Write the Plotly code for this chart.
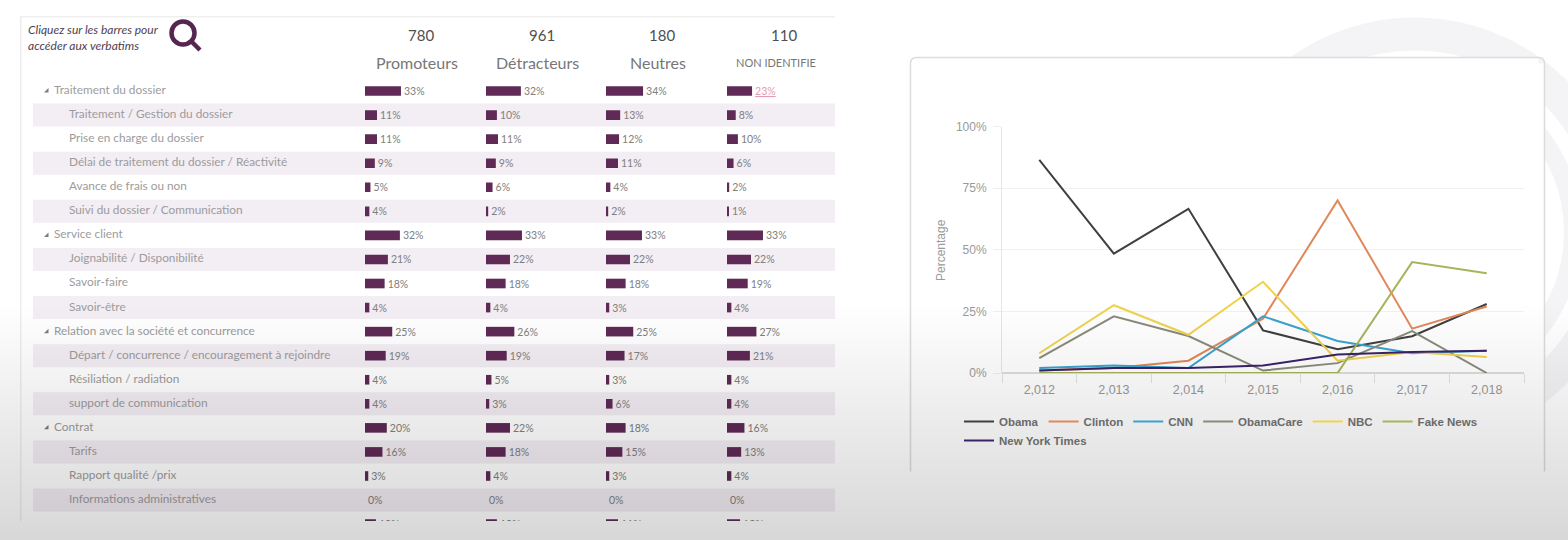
import plotly.graph_objects as go

W, H = 1568, 540

# ---------- table data ----------
row_labels = ["Traitement du dossier", "Traitement / Gestion du dossier", "Prise en charge du dossier",
              "Délai de traitement du dossier / Réactivité", "Avance de frais ou non",
              "Suivi du dossier / Communication", "Service client", "Joignabilité / Disponibilité",
              "Savoir-faire", "Savoir-être", "Relation avec la société et concurrence",
              "Départ / concurrence / encouragement à rejoindre", "Résiliation / radiation",
              "support de communication", "Contrat", "Tarifs", "Rapport qualité /prix",
              "Informations administratives", ""]
row_levels = [0, 1, 1, 1, 1, 1, 0, 1, 1, 1, 0, 1, 1, 1, 0, 1, 1, 1, 0]

promoteurs = [33, 11, 11, 9, 5, 4, 32, 21, 18, 4, 25, 19, 4, 4, 20, 16, 3, 0, 10]
detracteurs = [32, 10, 11, 9, 6, 2, 33, 22, 18, 4, 26, 19, 5, 3, 22, 18, 4, 0, 10]
neutres = [34, 13, 12, 11, 4, 2, 33, 22, 18, 3, 25, 17, 3, 6, 18, 15, 3, 0, 11]
non_identifie = [23, 8, 10, 6, 2, 1, 33, 22, 19, 4, 27, 21, 4, 4, 16, 13, 4, 0, 12]

column_names = ["Promoteurs", "Détracteurs", "Neutres", "NON IDENTIFIE"]
column_counts = ["780", "961", "180", "110"]
columns = [promoteurs, detracteurs, neutres, non_identifie]

# ---------- line chart data ----------
years = ["2,012", "2,013", "2,014", "2,015", "2,016", "2,017", "2,018"]
obama = [86.5, 48.4, 66.6, 17.3, 9.6, 14.9, 28]
clinton = [1, 2, 5, 22, 70, 18, 27]
cnn = [2, 3, 2, 23, 13, 8, 9]
obamacare = [6, 23, 15, 1, 4, 17, 0]
nbc = [8, 27.5, 15.5, 37, 5, 8.5, 6.5]
fake_news = [0, 0, 0, 0, 0, 45, 40.5]
nyt = [1, 2, 2, 3, 7.5, 8.5, 9]
series_names = ["Obama", "Clinton", "CNN", "ObamaCare", "NBC", "Fake News", "New York Times"]
series_values = [obama, clinton, cnn, obamacare, nbc, fake_news, nyt]
series_colors = ["#404040", "#e0885a", "#3aa3cf", "#8b8b7c", "#f0d24f", "#a6b45c", "#3a2468"]


def fx(p):
    return p / W


def fy(p):
    return 1 - p / H


def rect(x0, y0, x1, y1, fill, layer="below"):
    return dict(type="rect", xref="paper", yref="paper", x0=fx(x0), x1=fx(x1), y0=fy(y0), y1=fy(y1),
                fillcolor=fill, line_width=0, layer=layer)


def circle(cx, cy, r, width, color):
    return dict(type="circle", xref="paper", yref="paper", x0=fx(cx - r), x1=fx(cx + r),
                y0=fy(cy + r), y1=fy(cy - r), line=dict(color=color, width=width),
                fillcolor="rgba(0,0,0,0)", layer="below")


fig = go.Figure()
BAR = "#5f2a56"
FONT = "Lato"
ROW_TOP, ROW_H = 79.0, 24.06
N = len(row_labels)
col_starts = [365, 486, 606, 727]
BAR_PX_PER_PCT = 1.09
COL_W = 115

layout_axes = {}
# bars
for i, (vals, start) in enumerate(zip(columns, col_starts)):
    name = f"x{i + 2}"
    texts = [f"{v}%" for v in vals]
    colors = ["#808080"] * N
    if i == 3:
        texts[0] = f"<u>{vals[0]}%</u>"
        colors[0] = "#e59ab0"
    fig.add_trace(go.Bar(
        x=vals, y=list(range(N)), orientation="h", xaxis=name, yaxis="y2", width=0.4,
        marker=dict(color=BAR, line_width=0), text=texts, textposition="outside",
        textfont=dict(family=FONT, size=10.5, color=colors), constraintext="none",
        cliponaxis=False, showlegend=False, hoverinfo="skip", name=column_names[i]))
    layout_axes[f"xaxis{i + 2}"] = dict(domain=[fx(start), fx(start + COL_W)],
                                        range=[0, COL_W / BAR_PX_PER_PCT], visible=False,
                                        anchor="y2", fixedrange=True)

# row labels and expand triangles
fig.add_trace(go.Scatter(
    x=[69 if l else 54 for l in row_levels], y=list(range(N)), xaxis="x6", yaxis="y2",
    mode="text", text=row_labels, textposition="middle right",
    textfont=dict(family=FONT, size=11.8, color="#9c9c9c"), showlegend=False, hoverinfo="skip",
    cliponaxis=False))
groups = [i for i, l in enumerate(row_levels) if l == 0 and row_labels[i]]
fig.add_trace(go.Scatter(
    x=[47] * len(groups), y=groups, xaxis="x6", yaxis="y2", mode="markers",
    marker=dict(symbol="triangle-se", size=5, color="#7d7d7d"), showlegend=False, hoverinfo="skip"))
layout_axes["xaxis6"] = dict(domain=[0, fx(835)], range=[0, 835], visible=False, anchor="y2", fixedrange=True)
layout_axes["yaxis2"] = dict(domain=[fy(ROW_TOP + N * ROW_H), fy(ROW_TOP)], range=[N - 0.5, -0.5],
                             visible=False, anchor="x6", fixedrange=True)

# line chart
for name, vals, col in zip(series_names, series_values, series_colors):
    fig.add_trace(go.Scatter(x=years, y=vals, name=name, mode="lines", xaxis="x", yaxis="y",
                             line=dict(color=col, width=2), cliponaxis=False,
                             legend="legend2" if name == "New York Times" else "legend"))

shapes = [
    # faint background rings
    circle(1415, 232, 198, 33, "#f4f4f6"),
    circle(1415, 232, 158, 18, "#f4f4f6"),
    # table card
    rect(20, 16, 835, 525, "#ffffff"),
    rect(20, 16, 835, 17.5, "#efefef"),
    rect(20, 16, 21.5, 525, "#eeeeee"),
]
# chart card (rounded), border on three sides only
cl, ct, cr, cb, rad = 910.5, 57.5, 1544.5, 471.5, 6
corners = (f"M {fx(cl)} {fy(cb)} L {fx(cl)} {fy(ct + rad)} Q {fx(cl)} {fy(ct)} {fx(cl + rad)} {fy(ct)} "
           f"L {fx(cr - rad)} {fy(ct)} Q {fx(cr)} {fy(ct)} {fx(cr)} {fy(ct + rad)} L {fx(cr)} {fy(cb)}")
shapes.append(rect(cl, ct + rad, cr, cb, "#ffffff"))
shapes.append(rect(cl + rad, ct, cr - rad, ct + rad, "#ffffff"))
shapes.append(dict(type="path", xref="paper", yref="paper", path=corners, fillcolor="rgba(0,0,0,0)",
                   line=dict(color="#dcdcdc", width=1.5), layer="below"))
# alternating row bands
for i in range(1, N - 1, 2):
    top = ROW_TOP + i * ROW_H
    shapes.append(rect(33, top + 0.5, 835, top + ROW_H - 0.5, "#f3edf4"))
# magnifier icon
shapes.append(circle(183, 33, 11.5, 4.5, "#55264f"))
shapes.append(dict(type="line", xref="paper", yref="paper", x0=fx(191), y0=fy(41), x1=fx(200), y1=fy(50),
                   line=dict(color="#55264f", width=4.5), layer="above"))
# mask that cuts the table off, then the soft grey fade over everything
shapes.append(rect(0, 521, 836, 540, "#ffffff", "above"))
STEP = 6
y = 300
while y < H:
    alpha = 0.155 * ((y - 300) / (H - 300))
    shapes.append(rect(0, y, W, y + STEP, f"rgba(0,0,0,{alpha:.4f})", "above"))
    y += STEP

annotations = [
    dict(x=fx(26), y=fy(37), xref="paper", yref="paper", xanchor="left", yanchor="middle", align="left",
         showarrow=False, text="<i>Cliquez sur les barres pour<br>accéder aux verbatims</i>",
         font=dict(family=FONT, size=12, color="#4d4352")),
    dict(x=fx(941), y=fy(250), xref="paper", yref="paper", xanchor="center", yanchor="middle",
         showarrow=False, textangle=-90,
         text="Percentage", font=dict(family="Liberation Sans", size=12, color="#9a9a9a")),
]
count_centers = [421, 542, 662, 784]
name_centers = [417, 537, 658, 776]
for cnt, cx, nm, nx in zip(column_counts, count_centers, column_names, name_centers):
    annotations.append(dict(x=fx(cx), y=fy(35), xref="paper", yref="paper", xanchor="center", yanchor="middle",
                            showarrow=False, text=cnt,
                            font=dict(family=FONT, size=15, color="#4f4f4f")))
    annotations.append(dict(x=fx(nx), y=fy(62), xref="paper", yref="paper", xanchor="center", yanchor="middle",
                            showarrow=False, text=nm,
                            font=dict(family=FONT, size=16 if nm != "NON IDENTIFIE" else 11, color="#777777")))

legend_font = dict(family="Liberation Sans", size=11.5, color="#6a6a6a", weight="bold")
fig.update_layout(
    width=W, height=H, margin=dict(l=0, r=0, t=0, b=0, autoexpand=False), autosize=False,
    paper_bgcolor="#ffffff", plot_bgcolor="rgba(0,0,0,0)",
    shapes=shapes, annotations=annotations,
    xaxis=dict(domain=[fx(1002), fx(1524)], type="category", categoryorder="array", categoryarray=years,
               range=[-0.5, 6.5], tickson="boundaries", ticks="outside", ticklen=9, tickcolor="#e2e2e2",
               ticklabelstandoff=7,
               showline=False, showgrid=False, zeroline=False, anchor="y", fixedrange=True,
               tickfont=dict(family="Liberation Sans", size=12.5, color="#9a9a9a")),
    yaxis=dict(domain=[fy(373), fy(126.5)], range=[0, 100], tickvals=[0, 25, 50, 75, 100],
               ticktext=["0%", "25%", "50%", "75%", "100%"], ticks="outside", ticklen=8,
               ticklabelstandoff=4,
               tickcolor="#efefef", gridcolor="#f1f1f1", showline=True, linecolor="#e6e6e6",
               zeroline=True, zerolinecolor="#dedede", anchor="x", fixedrange=True,
               tickfont=dict(family="Liberation Sans", size=12, color="#9a9a9a")),
    legend=dict(orientation="h", x=fx(959), y=fy(407), xanchor="left", yanchor="top",
                bgcolor="rgba(0,0,0,0)", font=legend_font, itemclick=False, itemdoubleclick=False),
    legend2=dict(orientation="h", x=fx(959), y=fy(426), xanchor="left", yanchor="top",
                 bgcolor="rgba(0,0,0,0)", font=legend_font, itemclick=False, itemdoubleclick=False),
    **layout_axes,
)

fig.write_html("out.html", config={"displayModeBar": False},
               post_script="document.body.style.margin='0';document.documentElement.style.overflow='hidden';")
